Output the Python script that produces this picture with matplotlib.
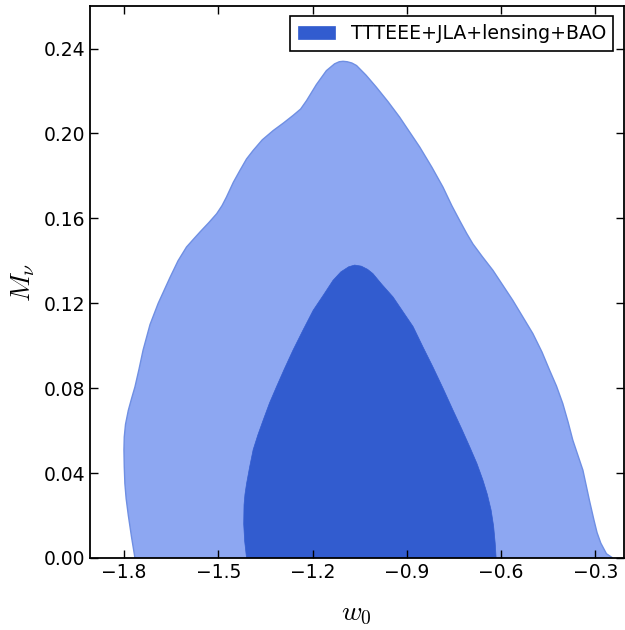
import matplotlib
matplotlib.use("Agg")
import matplotlib.pyplot as plt

plt.rcParams["mathtext.fontset"] = "cm"

# 95% contour (outer), traced clockwise from the bottom left
outer_w0 = [-1.765, -1.776, -1.786, -1.793, -1.797, -1.799, -1.800, -1.799, -1.795,
            -1.786, -1.776, -1.765, -1.752, -1.739, -1.717, -1.691, -1.654, -1.628,
            -1.601, -1.580, -1.558, -1.530, -1.505, -1.488, -1.474, -1.452, -1.431,
            -1.410, -1.389, -1.360, -1.325, -1.292, -1.262, -1.238, -1.219, -1.188,
            -1.156, -1.130, -1.115, -1.103, -1.090, -1.075, -1.060, -1.030, -0.997,
            -0.960, -0.923, -0.859, -0.820, -0.785, -0.757, -0.732, -0.710, -0.690,
            -0.660, -0.626, -0.563, -0.499, -0.470, -0.446, -0.424, -0.404, -0.387,
            -0.372, -0.355, -0.340, -0.319, -0.305, -0.295, -0.283, -0.265, -0.245]
outer_mnu = [0.000, 0.010, 0.020, 0.028, 0.035, 0.043, 0.051, 0.057, 0.063,
             0.0696, 0.075, 0.0806, 0.089, 0.098, 0.110, 0.120, 0.132, 0.140,
             0.1465, 0.150, 0.1536, 0.158, 0.1622, 0.166, 0.170, 0.177, 0.1826,
             0.188, 0.192, 0.197, 0.2014, 0.205, 0.2085, 0.2115, 0.2155, 0.223,
             0.2296, 0.2328, 0.2338, 0.234, 0.2338, 0.2332, 0.232, 0.2275, 0.2218,
             0.215, 0.2077, 0.1936, 0.184, 0.1747, 0.166, 0.159, 0.153, 0.148,
             0.142, 0.1355, 0.1214, 0.1057, 0.097, 0.0885, 0.081, 0.0728, 0.064,
             0.0555, 0.048, 0.0414, 0.027, 0.018, 0.012, 0.007, 0.002, 0.000]

# 68% contour (inner)
inner_w0 = [-1.410, -1.416, -1.419, -1.418, -1.415, -1.410, -1.400, -1.389, -1.374,
            -1.357, -1.337, -1.315, -1.290, -1.262, -1.230, -1.198, -1.165, -1.135,
            -1.110, -1.085, -1.066, -1.045, -1.025, -1.008, -0.980, -0.944, -0.912,
            -0.880, -0.849, -0.817, -0.785, -0.753, -0.726, -0.700, -0.677, -0.658,
            -0.644, -0.632, -0.624, -0.619, -0.616]
inner_mnu = [0.000, 0.008, 0.016, 0.025, 0.030, 0.035, 0.043, 0.051, 0.058,
             0.065, 0.073, 0.0806, 0.089, 0.098, 0.1075, 0.1167, 0.124, 0.1308,
             0.1348, 0.1372, 0.138, 0.1375, 0.136, 0.134, 0.129, 0.123, 0.116,
             0.109, 0.0995, 0.090, 0.080, 0.0696, 0.061, 0.0524, 0.0445, 0.0367,
             0.030, 0.0226, 0.015, 0.007, 0.000]

label = "TTTEEE+JLA+lensing+BAO"

fig = plt.figure(figsize=(6.25, 6.3), dpi=100)
ax = fig.add_axes([0.144, 0.1143, 0.854, 0.876])

ax.fill(outer_w0, outer_mnu, facecolor="#8da7f2", edgecolor="#6f8fe3", linewidth=1.0)
ax.fill(inner_w0, inner_mnu, facecolor="#325ccf", edgecolor="#325ccf", linewidth=0.5,
        label=label)

ax.set_xlim(-1.908, -0.21)
ax.set_ylim(0, 0.26)
ax.set_xticks([-1.8, -1.5, -1.2, -0.9, -0.6, -0.3])
ax.set_yticks([0.0, 0.04, 0.08, 0.12, 0.16, 0.20, 0.24])
ax.set_yticklabels(["0.00", "0.04", "0.08", "0.12", "0.16", "0.20", "0.24"])
ax.tick_params(direction="in", top=True, right=True, labelsize=13.5, length=6, width=1)
for s in ax.spines.values():
    s.set_linewidth(1.3)

ax.set_xlabel(r"$w_0$", fontsize=20, labelpad=12)
ax.set_ylabel(r"$M_\nu$", fontsize=20, labelpad=5)

leg = ax.legend(loc="upper right", fontsize=13.6, fancybox=False, framealpha=1,
                edgecolor="black", borderaxespad=0.55)
leg.get_frame().set_linewidth(1.2)

fig.savefig("out.png", dpi=100)
